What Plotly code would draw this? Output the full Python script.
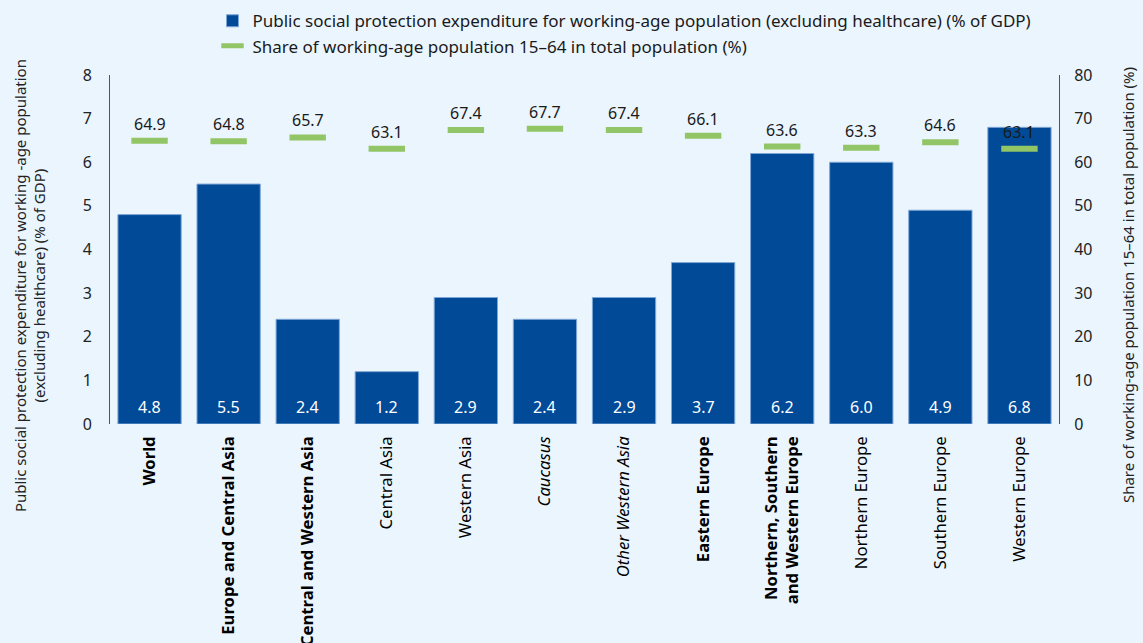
import plotly.graph_objects as go

categories = [
    "<b>World</b>",
    "<b>Europe and Central Asia</b>",
    "<b>Central and Western Asia</b>",
    "Central Asia",
    "Western Asia",
    "<i>Caucasus</i>",
    "<i>Other Western Asia</i>",
    "<b>Eastern Europe</b>",
    "<b>Northern, Southern<br>and Western Europe</b>",
    "Northern Europe",
    "Southern Europe",
    "Western Europe",
]
expenditure = [4.8, 5.5, 2.4, 1.2, 2.9, 2.4, 2.9, 3.7, 6.2, 6.0, 4.9, 6.8]
working_age_share = [64.9, 64.8, 65.7, 63.1, 67.4, 67.7, 67.4, 66.1, 63.6, 63.3, 64.6, 63.1]

left_title = "Public social protection expenditure for working -age population<br>(excluding healthcare) (% of GDP)"
right_title = "Share of working-age population 15–64 in total population (%)"

BG = "#EAF5FE"
BLUE = "#004A98"
GREEN = "#92C565"
FONT = "Noto Sans"

fig = go.Figure()
fig.add_trace(go.Bar(
    x=categories, y=expenditure,
    name="Public social protection expenditure for working-age population (excluding healthcare) (% of GDP)",
    marker=dict(color=BLUE, line=dict(color="#7FA6D6", width=1)),
    width=0.80,
    yaxis="y",
))
fig.add_trace(go.Scatter(
    x=categories, y=working_age_share,
    name="Share of working-age population 15–64 in total population (%)",
    mode="markers",
    marker=dict(symbol="line-ew", size=26, line=dict(color=GREEN, width=6), color=GREEN),
    yaxis="y2",
))
for c, v in zip(categories, working_age_share):
    fig.add_annotation(x=c, y=v, yref="y2", text=f"{v:.1f}", showarrow=False,
                       yshift=17, font=dict(size=16, color="#1a1a1a", family=FONT))
for c, v in zip(categories, expenditure):
    fig.add_annotation(x=c, y=0, yref="y", text=f"{v:.1f}", showarrow=False,
                       yshift=17, font=dict(size=16, color="white", family=FONT))

# plot area: x 110..1059 px, y 75..424 px
fig.add_annotation(text=left_title, xref="paper", yref="paper", x=-0.0843, y=0.398,
                   xanchor="center", yanchor="middle", textangle=-90, showarrow=False,
                   font=dict(size=15, color="#222", family=FONT))
fig.add_annotation(text=right_title, xref="paper", yref="paper", x=1.0727, y=0.398,
                   xanchor="center", yanchor="middle", textangle=-90, showarrow=False,
                   font=dict(size=15, color="#222", family=FONT))

fig.update_layout(
    width=1143, height=643,
    paper_bgcolor=BG, plot_bgcolor=BG,
    margin=dict(l=110, r=84, t=75, b=219, autoexpand=False),
    font=dict(family=FONT, size=16, color="#222"),
    showlegend=True,
    legend=dict(x=0.108, y=0.995, yref="container", xanchor="left", yanchor="top",
                bgcolor="rgba(0,0,0,0)", font=dict(size=17, color="#1a1a1a"),
                itemwidth=30, tracegroupgap=0),
    xaxis=dict(range=[-0.5, 11.5], tickangle=-90, showgrid=False, showline=False, ticks="",
               ticklabelstandoff=8,
               tickfont=dict(size=16.7, color="#000", family=FONT)),
    yaxis=dict(range=[0, 8], dtick=1, showgrid=False, showline=True, linecolor="#555",
               linewidth=1, ticks="", zeroline=False, tickfont=dict(size=16),
               ticklabelstandoff=14),
    yaxis2=dict(range=[0, 80], dtick=10, overlaying="y", side="right", showgrid=False,
                showline=True, linecolor="#555", linewidth=1, ticks="", zeroline=False,
                tickfont=dict(size=16), ticklabelstandoff=11),
)

fig.write_html("out.html")
